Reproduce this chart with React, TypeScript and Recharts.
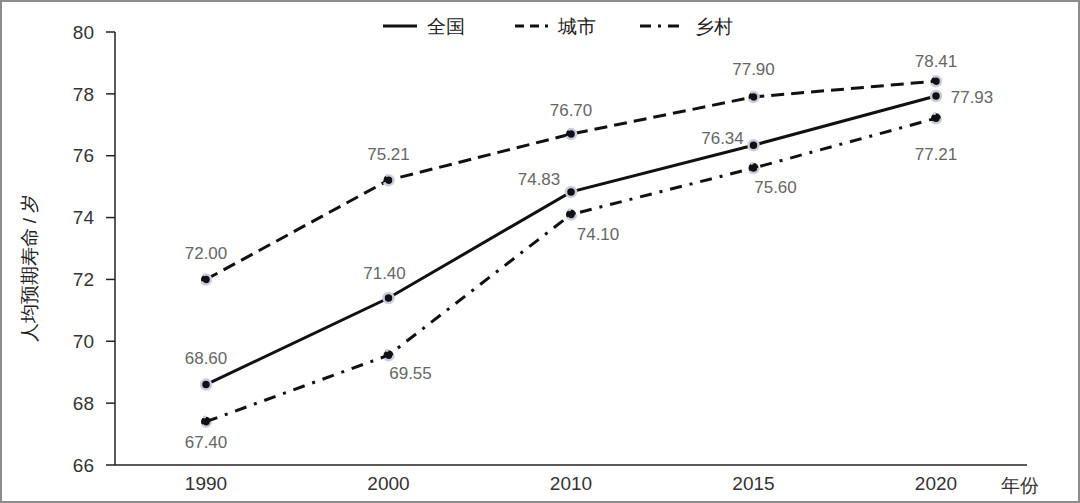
import { LineChart, Line, XAxis, YAxis, LabelList, Label } from 'recharts';

const years = ['1990', '2000', '2010', '2015', '2020'];
const national = [68.6, 71.4, 74.83, 76.34, 77.93];
const urban = [72.0, 75.21, 76.7, 77.9, 78.41];
const rural = [67.4, 69.55, 74.1, 75.6, 77.21];
const yTicks = [66, 68, 70, 72, 74, 76, 78, 80];

// where each value label sits relative to its point [dx, dy]
const nationalLabelPos = [[0, -26], [-4, -24], [-32, -12], [-31, -7], [36, 1]];
const urbanLabelPos = [[0, -26], [0, -26], [0, -24], [0, -27], [0, -20]];
const ruralLabelPos = [[0, 21], [22, 18], [27, 20], [22, 19], [0, 36]];

const data = years.map((year, i) => ({
  year,
  national: national[i],
  urban: urban[i],
  rural: rural[i],
}));

const FONT = '"Liberation Sans", Arial, sans-serif';
const DASHED = '13 7';
const DASH_DOT = '12 8 3 8';

const dot = { r: 5, fill: '#111', stroke: '#c9cbdf', strokeWidth: 2.5 };

function makeLabel(pos: number[][]) {
  return (props: any) => {
    const { x, y, value, index } = props;
    const [dx, dy] = pos[index] || [0, -20];
    return (
      <text
        x={x + dx}
        y={y + dy}
        textAnchor="middle"
        dominantBaseline="central"
        fontSize={17}
        fill="#666"
        fontFamily={FONT}
      >
        {Number(value).toFixed(2)}
      </text>
    );
  };
}

const legendItems = [
  { name: '全国', dash: undefined as string | undefined, lineX: 383, lineW: 34, textX: 427 },
  { name: '城市', dash: '9 6', lineX: 515, lineW: 33, textX: 558 },
  { name: '乡村', dash: '11 7 3 7', lineX: 640, lineW: 43, textX: 695 },
];

export default function App() {
  return (
    <div style={{ position: 'absolute', left: 0, top: 0, width: 1080, height: 503, background: '#fff', fontFamily: FONT }}>
      <LineChart
        width={1080}
        height={503}
        data={data}
        margin={{ top: 32, right: 53, bottom: 8, left: 55 }}
      >
        <XAxis
          dataKey="year"
          tickLine={false}
          axisLine={{ stroke: '#222', strokeWidth: 1.5 }}
          tick={{ fill: '#333', fontSize: 19, fontFamily: FONT }}
          tickSize={6}
          tickMargin={6}
          height={30}
          interval={0}
          padding={{ left: 91, right: 91 }}
        >
          <Label
            content={({ viewBox }: any) => (
              <text
                x={viewBox.x + viewBox.width - 7}
                y={viewBox.y + 27}
                textAnchor="middle"
                fontSize={19}
                fill="#333"
                fontFamily={FONT}
              >
                年份
              </text>
            )}
          />
        </XAxis>
        <YAxis
          domain={[66, 80]}
          ticks={yTicks}
          interval={0}
          width={60}
          axisLine={{ stroke: '#222', strokeWidth: 1.5 }}
          tickLine={{ stroke: '#222', strokeWidth: 1.5 }}
          tickSize={9}
          tickMargin={12}
          tick={{ fill: '#333', fontSize: 19, fontFamily: FONT }}
        />
        <Line
          dataKey="urban"
          stroke="#111"
          strokeWidth={3}
          strokeDasharray={DASHED}
          dot={dot}
          activeDot={false}
          isAnimationActive={false}
        >
          <LabelList dataKey="urban" content={makeLabel(urbanLabelPos)} />
        </Line>
        <Line
          dataKey="rural"
          stroke="#111"
          strokeWidth={3}
          strokeDasharray={DASH_DOT}
          dot={dot}
          activeDot={false}
          isAnimationActive={false}
        >
          <LabelList dataKey="rural" content={makeLabel(ruralLabelPos)} />
        </Line>
        <Line
          dataKey="national"
          stroke="#111"
          strokeWidth={3}
          dot={dot}
          activeDot={false}
          isAnimationActive={false}
        >
          <LabelList dataKey="national" content={makeLabel(nationalLabelPos)} />
        </Line>
      </LineChart>

      {/* y axis title */}
      <div
        style={{
          position: 'absolute',
          left: 30,
          top: 268,
          transform: 'translate(-50%, -50%) rotate(-90deg)',
          whiteSpace: 'nowrap',
          fontSize: 19,
          color: '#222',
        }}
      >
        人均预期寿命 / 岁
      </div>

      {/* legend */}
      <svg style={{ position: 'absolute', left: 0, top: 0 }} width={1080} height={50}>
        {legendItems.map((item) => (
          <g key={item.name}>
            <line
              x1={item.lineX}
              x2={item.lineX + item.lineW}
              y1={26}
              y2={26}
              stroke="#111"
              strokeWidth={3}
              strokeDasharray={item.dash}
            />
            <text x={item.textX} y={26} dominantBaseline="central" fontSize={19} fill="#222" fontFamily={FONT}>
              {item.name}
            </text>
          </g>
        ))}
      </svg>

      {/* frame */}
      <div
        style={{
          position: 'absolute',
          left: 0,
          top: 0,
          width: 1080,
          height: 503,
          boxSizing: 'border-box',
          border: '2px solid #8c8c8c',
          pointerEvents: 'none',
        }}
      />
    </div>
  );
}
